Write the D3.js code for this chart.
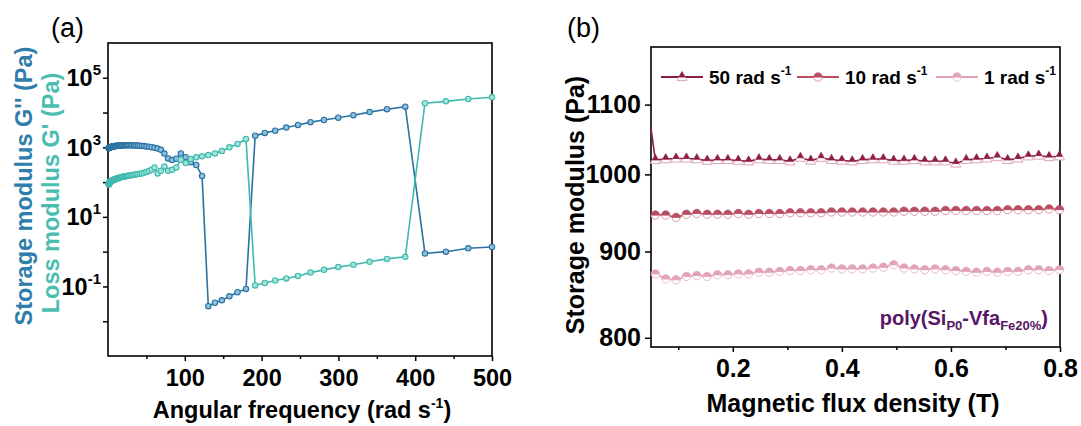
<!DOCTYPE html>
<html><head><meta charset="utf-8">
<script src="https://cdn.jsdelivr.net/npm/d3@7"></script>
<style>body{margin:0;background:#fff}svg{display:block}text{font-family:"Liberation Sans",Arial,sans-serif}</style>
</head><body><svg id="c" width="1081" height="426"></svg>
<script>
// ---------- Panel (a) data ----------
const freq = [1.01,1.08,1.15,1.22,1.31,1.39,1.48,1.58,1.69,1.80,
1.92,2.04,2.18,2.32,2.47,2.64,2.81,3.00,3.20,3.41,
3.63,3.87,4.13,4.40,4.69,5.00,5.33,5.68,6.06,6.46,
6.88,7.34,7.82,8.34,8.89,9.48,10.1,10.8,11.5,12.2,
13.1,13.9,14.8,15.8,16.9,18.0,19.2,20.4,21.8,23.2,
24.7,26.4,28.1,30.0,32.0,34.1,36.3,38.7,41.3,44.0,
46.9,50.0,53.3,56.8,60.6,64.6,68.9,73.4,78.2,83.4,
88.9,94.8,101.1,107.7,114.9,122.5,130.6,139.2,148.3,158.1,
168.6,179.7,191.6,204.2,217.7,232.1,247.4,263.7,281.2,299.8,
319.5,340.6,363.2,387.1,412.7,440.0,469.1,500.0];
const storageG2 = [950,952,955,958,960,963,966,969,972,975,
978,981,984,988,992,996,1000,1004,1008,1012,
1016,1020,1025,1030,1035,1040,1045,1050,1055,1060,
1065,1070,1075,1080,1085,1090,1095,1100,1105,1110,
1115,1120,1125,1130,1135,1138,1140,1142,1144,1145,
1145,1145,1144,1142,1140,1136,1130,1122,1112,1100,
1085,1065,1040,1010,970,920,850,660,480,430,
470,670,520,370,310,150,0.027,0.034,0.040,0.052,
0.068,0.085,2150,2600,3000,3700,4400,5300,6100,7100,
8400,10300,12500,14800,0.89,1.0,1.25,1.36];
const lossG1 = [85,86,87,88,89,90,91,92,93,94,
95,96,97,98,99,100,101,102,103,104,
105,106,107,108,109,110,111,112,113,114,
115,116,117,118,119,120,122,124,126,128,
130,132,134,136,138,140,142,144,146,148,
150,152,154,157,160,163,166,170,174,178,
185,195,210,226,264,178,211,283,211,226,
264,439,352,460,515,550,600,670,780,1000,
1250,1740,0.107,0.126,0.148,0.17,0.20,0.25,0.30,0.36,
0.42,0.51,0.62,0.71,18500,21000,24500,27500];
const aXTicks = [100,200,300,400,500];
const aXMinor = [50,150,250,350,450];
const aYDecades = [1e-2,1e-1,1,10,100,1e3,1e4,1e5];
const aYLabelExp = [5,3,1,-1];

// ---------- Panel (b) data ----------
const fluxDensity = [0.050,0.058,0.077,0.096,0.115,0.134,0.153,0.172,0.191,0.210,0.229,
0.248,0.267,0.286,0.305,0.324,0.343,0.362,0.381,0.400,0.419,
0.438,0.457,0.476,0.495,0.514,0.533,0.552,0.571,0.590,0.609,
0.628,0.647,0.666,0.685,0.704,0.723,0.742,0.761,0.780,0.799];
const mod50 = [1065,1020,1021,1022,1022,1021,1019,1020,1020,1019,1018,
1021,1020,1020,1018,1023,1019,1023,1020,1019,1018,
1020,1021,1021,1019,1019,1020,1018,1018,1018,1015,
1020,1021,1022,1024,1020,1022,1025,1026,1024,1025];
const mod10 = [null,946,946,943,947,948,947,947,947,948,947,
948,948,948,949,949,949,949,950,950,950,
950,950,950,950,951,951,951,951,952,952,
952,952,952,952,953,953,953,953,954,953];
const mod1 = [null,873,867,866,870,871,870,872,872,873,873,
875,875,876,877,877,878,878,880,879,879,
879,880,881,884,880,879,878,879,878,877,
876,875,876,875,876,876,878,878,877,878];
const seriesNames = ["50 rad s","10 rad s","1 rad s"];
const bYTicks = [800,900,1000,1100];
const bXTicks = [0.2,0.4,0.6,0.8];
const bXMinor = [0.1,0.3,0.5,0.7];

const svg = d3.select("#c");
const FS_A = 23.5, FS_B = 25;

function styleAxis(g){
  g.select(".domain").remove();
  g.selectAll(".tick line").attr("stroke","#000").attr("stroke-width",1.5);
  g.selectAll("text").attr("fill","#000").attr("font-weight","bold");
}

// ================= Panel (a) =================
const A = {l:108, r:492, t:43, b:356};
const xA = d3.scaleLinear().domain([0,500]).range([A.l,A.r]);
const yA = d3.scaleLog().domain([1e-3,1e6]).range([A.b,A.t]);
const gA = svg.append("g");

gA.append("g").attr("transform",`translate(0,${A.b})`)
  .call(d3.axisBottom(xA).tickValues(aXTicks).tickSize(5).tickPadding(8).tickFormat(d3.format("d")))
  .call(styleAxis).call(g=>g.selectAll("text").attr("font-size",FS_A).attr("font-family","Liberation Sans"));
gA.append("g").attr("transform",`translate(0,${A.b})`)
  .call(d3.axisBottom(xA).tickValues(aXMinor).tickSize(3).tickFormat(""))
  .call(styleAxis);
gA.append("g").attr("transform",`translate(${A.l},0)`)
  .call(d3.axisLeft(yA).tickValues(aYDecades).tickSize(5).tickFormat(""))
  .call(styleAxis);
const yLab = gA.append("g");
aYLabelExp.forEach(e=>{
  const t = yLab.append("text").attr("x",A.l-7).attr("y",yA(Math.pow(10,e))+8.5)
    .attr("text-anchor","end").attr("font-weight","bold").attr("font-size",FS_A).attr("fill","#000");
  t.append("tspan").text("10");
  t.append("tspan").attr("dy",-11).attr("font-size",15).text(String(e));
});
gA.append("rect").attr("x",A.l).attr("y",A.t).attr("width",A.r-A.l).attr("height",A.b-A.t)
  .attr("fill","none").attr("stroke","#000").attr("stroke-width",1.6);

const BLUE="#2b72a3", BLUE_L="#8cc0dc", TEAL="#3fbaac", TEAL_L="#a4e3da";
const dataA = [
  {vals:storageG2, c:BLUE, cl:BLUE_L},
  {vals:lossG1, c:TEAL, cl:TEAL_L}
];
const lineA = d3.line().x(d=>xA(d[0])).y(d=>yA(d[1]));
dataA.forEach(s=>{
  const pts = freq.map((f,i)=>[f,s.vals[i]]);
  gA.append("path").datum(pts).attr("d",lineA).attr("fill","none").attr("stroke",s.c).attr("stroke-width",1.6);
  gA.append("g").selectAll("circle").data(pts).join("circle")
    .attr("cx",d=>xA(d[0])).attr("cy",d=>yA(d[1])).attr("r",2.7)
    .attr("fill",s.cl).attr("stroke",s.c).attr("stroke-width",1.1);
});

// axis titles (a)
const xtA = gA.append("text").attr("x",(A.l+A.r)/2+2).attr("y",418).attr("text-anchor","middle")
  .attr("font-weight","bold").attr("font-size",FS_A).attr("fill","#000");
xtA.append("tspan").text("Angular frequency (rad s");
xtA.append("tspan").attr("dy",-10).attr("font-size",14).text("-1");
xtA.append("tspan").attr("dy",10).text(")");
gA.append("text").attr("transform","translate(32,186) rotate(-90)").attr("text-anchor","middle")
  .attr("font-weight","bold").attr("font-size",FS_A).attr("fill","#2e7dab").text("Storage modulus G'' (Pa)");
gA.append("text").attr("transform","translate(59,193) rotate(-90)").attr("text-anchor","middle")
  .attr("font-weight","bold").attr("font-size",FS_A).attr("fill","#4bbdb0").text("Loss modulus G' (Pa)");
svg.append("text").attr("x",51).attr("y",37).attr("font-size",27).attr("fill","#000").text("(a)");

// ================= Panel (b) =================
const B = {l:651, r:1060, t:47, b:347};
const xB = d3.scaleLinear().domain([0.05,0.8]).range([B.l,B.r]);
const yB = d3.scaleLog().domain([790,1190]).range([B.b,B.t]);
const gB = svg.append("g");

gB.append("g").attr("transform",`translate(0,${B.b})`)
  .call(d3.axisBottom(xB).tickValues(bXTicks).tickSize(5).tickPadding(7).tickFormat(d3.format(".1f")))
  .call(styleAxis).call(g=>g.selectAll("text").attr("font-size",FS_B).attr("font-family","Liberation Sans"));
gB.append("g").attr("transform",`translate(0,${B.b})`)
  .call(d3.axisBottom(xB).tickValues(bXMinor).tickSize(3).tickFormat(""))
  .call(styleAxis);
gB.append("g").attr("transform",`translate(${B.l},0)`)
  .call(d3.axisLeft(yB).tickValues(bYTicks).tickSize(6).tickPadding(4).tickFormat(d3.format("d")))
  .call(styleAxis).call(g=>g.selectAll("text").attr("font-size",FS_B).attr("font-family","Liberation Sans"));
gB.append("rect").attr("x",B.l).attr("y",B.t).attr("width",B.r-B.l).attr("height",B.b-B.t)
  .attr("fill","none").attr("stroke","#000").attr("stroke-width",1.6);

const TRI_TOP="M0,-5.5L3.1,0L-3.1,0Z", TRI_BOT="M-3.1,0L3.1,0L5,3.6L-5,3.6Z";
const CIR_TOP="M-4.2,0A4.2,4.2 0 0 1 4.2,0Z", CIR_BOT="M-4.2,0A4.2,4.2 0 0 0 4.2,0Z";
const dataB = [
  {vals:mod50, c:"#8e1f3f", cl:"#dca6b5", top:TRI_TOP, bot:TRI_BOT},
  {vals:mod10, c:"#b84e63", cl:"#da95a5", top:CIR_TOP, bot:CIR_BOT},
  {vals:mod1,  c:"#e2a3b5", cl:"#ebbcc8", top:CIR_TOP, bot:CIR_BOT}
];
const lineB = d3.line().defined(d=>d[1]!=null).x(d=>xB(d[0])).y(d=>yB(d[1]));
function marker(g,s,x,y){
  const m = g.append("g").attr("transform",`translate(${x},${y})`);
  m.append("path").attr("d",s.bot).attr("fill","#fff").attr("stroke",s.cl).attr("stroke-width",1);
  m.append("path").attr("d",s.top).attr("fill",s.c).attr("stroke",s.c).attr("stroke-width",0.7);
}
dataB.slice().reverse().forEach(s=>{
  const pts = fluxDensity.map((x,i)=>[x,s.vals[i]]);
  gB.append("path").datum(pts).attr("d",lineB).attr("fill","none").attr("stroke",s.c).attr("stroke-width",1.6);
  const mg = gB.append("g");
  pts.forEach((d,i)=>{ if(i>0 && d[1]!=null) marker(mg,s,xB(d[0]),yB(d[1])); });
});

// legend
const legX = [661,797,936];
dataB.forEach((s,i)=>{
  const lg = gB.append("g");
  lg.append("line").attr("x1",legX[i]).attr("x2",legX[i]+42).attr("y1",77).attr("y2",77)
    .attr("stroke",s.c).attr("stroke-width",2);
  marker(lg,s,legX[i]+21,77);
  const t = lg.append("text").attr("x",legX[i]+48).attr("y",84).attr("font-weight","bold")
    .attr("font-size",19).attr("fill","#000");
  t.append("tspan").text(seriesNames[i]);
  t.append("tspan").attr("dy",-9).attr("font-size",12).text("-1");
});

// annotation
const ann = gB.append("text").attr("x",1048).attr("y",325).attr("text-anchor","end")
  .attr("font-weight","bold").attr("font-size",20).attr("fill","#571766");
ann.append("tspan").text("poly(Si");
ann.append("tspan").attr("dy",5).attr("font-size",13).text("P0");
ann.append("tspan").attr("dy",-5).text("-Vfa");
ann.append("tspan").attr("dy",5).attr("font-size",13).text("Fe20%");
ann.append("tspan").attr("dy",-5).text(")");

// axis titles (b)
gB.append("text").attr("x",853).attr("y",412).attr("text-anchor","middle")
  .attr("font-weight","bold").attr("font-size",FS_B).attr("fill","#000").text("Magnetic flux density (T)");
gB.append("text").attr("transform","translate(584,205) rotate(-90)").attr("text-anchor","middle")
  .attr("font-weight","bold").attr("font-size",FS_B).attr("fill","#000").text("Storage modulus (Pa)");
svg.append("text").attr("x",567).attr("y",37).attr("font-size",27).attr("fill","#000").text("(b)");
</script></body></html>
